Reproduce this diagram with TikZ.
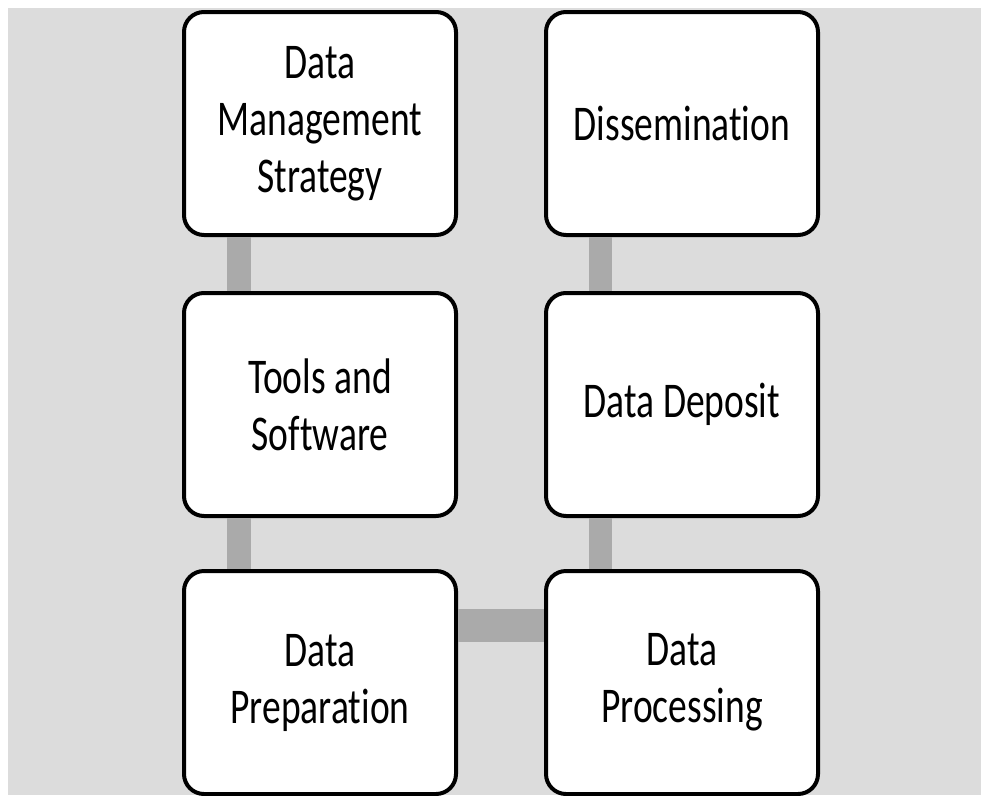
\documentclass[tikz,border=0pt]{standalone}
\usepackage{fontspec}
\setmainfont{Carlito}[FakeStretch=0.75, Ligatures={NoCommon}]
\usepackage{tikz}
\usepackage{xcolor}
\usetikzlibrary{
    calc,
    positioning
}
\definecolor{paneGrey}{HTML}{DCDCDC}
\definecolor{barGrey}{HTML}{AAAAAA}
\tikzset{
    stage/.style={draw=black, line width=4pt, fill=white, rounded corners=20pt,
        minimum width=272pt, minimum height=223pt, inner sep=0pt,
        align=center, font=\fontsize{50}{57}\selectfont},
    bar/.style={fill=barGrey}
}

\begin{document}
\begin{tikzpicture}[x=1pt, y=-1pt]
                        \useasboundingbox (0, 0) rectangle (981, 795);
                        \fill[paneGrey] (8, 8) rectangle (981, 795);
                        \node[stage] (dms) at (320, 123.5) {Data\\Management\\Strategy};
                        \node[stage] (tools) at (320, 404.5) {Tools and\\Software};
                        \node[stage] (prep) at (320, 682.5) {Data\\Preparation};
                        \node[stage] (dissem) at (682, 123.5) {Dissemination};
                        \node[stage] (deposit) at (682, 404.5) {Data Deposit};
                        \node[stage] (proc) at (682, 682.5) {Data\\Processing};
                        \fill[bar] ($(dms.south west) + (45, 0)$) rectangle ($(tools.north west) + (69, 0)$);
                        \fill[bar] ($(tools.south west) + (45, 0)$) rectangle ($(prep.north west) + (69, 0)$);
                        \fill[bar] ($(prep.north east) + (0, 40)$) rectangle ($(proc.north west) + (0, 73)$);
                        \fill[bar] ($(proc.north west) + (45, 0)$) rectangle ($(deposit.south west) + (68, 0)$);
                        \fill[bar] ($(deposit.north west) + (45, 0)$) rectangle ($(dissem.south west) + (68, 0)$);
                    \end{tikzpicture}
\end{document}
